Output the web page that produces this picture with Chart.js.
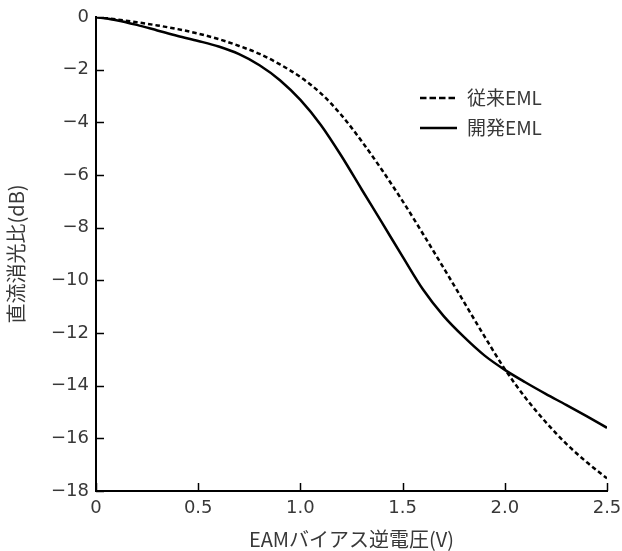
<!DOCTYPE html>
<html>
<head>
<meta charset="utf-8">
<script src="https://cdn.jsdelivr.net/npm/chart.js@4/dist/chart.umd.min.js"></script>
<style>
  html, body { margin: 0; padding: 0; background: #fff; }
  #wrap { width: 622px; height: 551px; position: relative; }
</style>
</head>
<body>
<div id="wrap"><canvas id="c" width="622" height="551"></canvas></div>
<script>
// Reverse bias voltage (V)
const voltage = [0, 0.1, 0.2, 0.3, 0.4, 0.5, 0.6, 0.7, 0.8, 0.9, 1.0, 1.1, 1.2, 1.3, 1.4, 1.5, 1.6, 1.7, 1.8, 1.9, 2.0, 2.1, 2.2, 2.3, 2.4, 2.5];
// 従来EML (dashed)
const conventional = [0, -0.09, -0.2, -0.32, -0.46, -0.63, -0.84, -1.1, -1.4, -1.8, -2.28, -2.9, -3.72, -4.72, -5.82, -6.99, -8.24, -9.52, -10.82, -12.12, -13.37, -14.45, -15.38, -16.2, -16.9, -17.52];
// 開発EML (solid)
const developed = [0, -0.12, -0.3, -0.51, -0.72, -0.91, -1.12, -1.41, -1.83, -2.4, -3.15, -4.1, -5.27, -6.55, -7.82, -9.1, -10.35, -11.35, -12.15, -12.85, -13.4, -13.87, -14.31, -14.73, -15.16, -15.6];

const seriesLabels = ['従来EML', '開発EML'];
const xTitle = 'EAMバイアス逆電圧(V)';
const yTitle = '直流消光比(dB)';

const FONT = '"Noto Sans CJK JP", "Noto Sans", sans-serif';
const TICKFONT = '"DejaVu Sans", sans-serif';
const TEXT = '#383838';

const toPts = (ys) => voltage.map((x, i) => ({ x: x, y: ys[i] }));

const innerTicks = {
  id: 'innerTicks',
  afterDraw(chart) {
    const ctx = chart.ctx;
    const xs = chart.scales.x, ys = chart.scales.y;
    const L = 8;
    ctx.save();
    ctx.strokeStyle = '#000';
    ctx.lineWidth = 1.5;
    ys.ticks.forEach(t => {
      const py = Math.round(ys.getPixelForValue(t.value)) + 0.5;
      ctx.beginPath();
      ctx.moveTo(xs.left, py);
      ctx.lineTo(xs.left + L, py);
      ctx.stroke();
    });
    xs.ticks.forEach(t => {
      const px = Math.round(xs.getPixelForValue(t.value)) + 0.5;
      ctx.beginPath();
      ctx.moveTo(px, ys.bottom);
      ctx.lineTo(px, ys.bottom - L);
      ctx.stroke();
    });
    ctx.restore();
  }
};

const innerLegend = {
  id: 'innerLegend',
  afterDraw(chart) {
    const ctx = chart.ctx;
    const a = chart.chartArea;
    const x0 = a.left + 324, x1 = a.left + 361;
    const rows = [a.top + 81, a.top + 111];
    ctx.save();
    chart.data.datasets.forEach((ds, i) => {
      const y = rows[i];
      ctx.strokeStyle = ds.borderColor;
      ctx.lineWidth = 2.5;
      ctx.setLineDash(i === 0 ? [6.5, 3] : []);
      ctx.beginPath();
      ctx.moveTo(x0, y);
      ctx.lineTo(x1, y);
      ctx.stroke();
      ctx.setLineDash([]);
      ctx.fillStyle = TEXT;
      ctx.font = '19px ' + FONT;
      ctx.textBaseline = 'middle';
      ctx.textAlign = 'left';
      ctx.fillText(ds.label, x1 + 10, y);
    });
    ctx.restore();
  }
};

new Chart(document.getElementById('c'), {
  type: 'line',
  data: {
    datasets: [
      {
        label: seriesLabels[0],
        data: toPts(conventional),
        borderColor: '#000',
        borderWidth: 2.5,
        borderDash: [4.5, 3],
        pointRadius: 0,
        cubicInterpolationMode: 'monotone',
        fill: false
      },
      {
        label: seriesLabels[1],
        data: toPts(developed),
        borderColor: '#000',
        borderWidth: 2.5,
        pointRadius: 0,
        cubicInterpolationMode: 'monotone',
        fill: false
      }
    ]
  },
  options: {
    responsive: false,
    animation: false,
    devicePixelRatio: 1,
    layout: { padding: { top: 17, right: 15, left: 0, bottom: 0 } },
    plugins: {
      legend: { display: false },
      tooltip: { enabled: false }
    },
    scales: {
      x: {
        type: 'linear',
        min: 0, max: 2.5,
        border: { display: true, color: '#000', width: 2 },
        grid: { display: false, drawTicks: false },
        ticks: {
          stepSize: 0.5,
          padding: 7,
          color: TEXT,
          font: { family: TICKFONT, size: 18 },
          maxRotation: 0,
          callback: (v) => v === 0 ? '0' : Number(v).toFixed(1)
        },
        title: {
          display: true, text: xTitle, color: TEXT,
          font: { family: FONT, size: 20 },
          padding: { top: 0, bottom: 0 }
        },
        afterFit: (s) => { s.height = 60; s.paddingLeft = 0; s.paddingRight = 0; }
      },
      y: {
        type: 'linear',
        min: -18, max: 0,
        border: { display: true, color: '#000', width: 2 },
        grid: { display: false, drawTicks: false },
        ticks: {
          stepSize: 2,
          padding: 7,
          color: TEXT,
          font: { family: TICKFONT, size: 18 },
          callback: (v) => v === 0 ? '0' : '−' + Math.abs(v)
        },
        title: {
          display: true, text: yTitle, color: TEXT,
          font: { family: FONT, size: 20 },
          padding: { top: 4, bottom: 0 }
        },
        afterFit: (s) => { s.width = 96; s.paddingTop = 0; s.paddingBottom = 0; }
      }
    }
  },
  plugins: [innerTicks, innerLegend]
});
</script>
</body>
</html>
